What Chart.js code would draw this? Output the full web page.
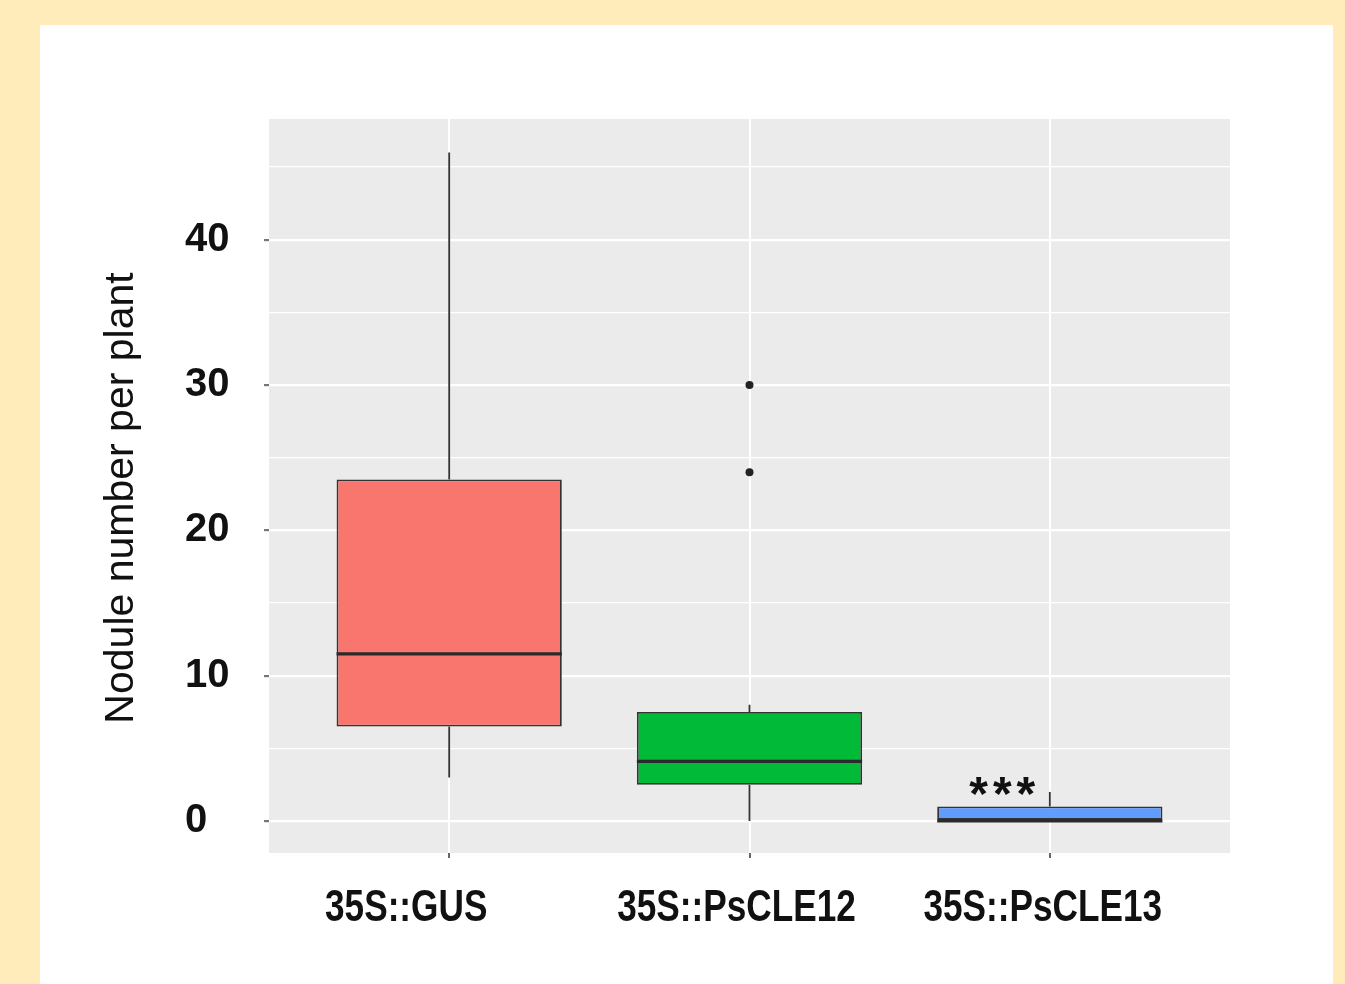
<!DOCTYPE html>
<html>
<head>
<meta charset="utf-8">
<title>Nodule number per plant</title>
<script src="https://cdn.jsdelivr.net/npm/chart.js@4/dist/chart.umd.min.js"></script>
<style>
  html, body { margin: 0; padding: 0; background: #FFECBA; }
  canvas { display: block; }
</style>
</head>
<body>
<canvas id="c" width="1345" height="984"></canvas>
<script>
// Genotypes on the x axis
const categories = ['35S::GUS', '35S::PsCLE12', '35S::PsCLE13'];
// Box-plot statistics per genotype (nodules per plant)
const whiskerLow  = [3,    0,   0];
const q1          = [6.5,  2.5, 0];
const median      = [11.5, 4.1, 0];
const q3          = [23.5, 7.5, 1];
const whiskerHigh = [46,   8,   2];
// Points beyond the whiskers
const outliers    = [[], [24, 30], []];
// Significance marks above each box
const significance = ['', '', '***'];
// Fill colours of the boxes
const boxColors = ['#F8766D', '#00BA38', '#619CFF'];
// Axis title
const yTitle = 'Nodule number per plant';

const boxData = categories.map((_, i) => ({ x: i + 1, y: [q1[i], q3[i]] }));
const outlierData = [];
outliers.forEach((vals, i) => vals.forEach(v => outlierData.push({ x: i + 1, y: v })));

const LINE = '#333333';
const FONT = '"Liberation Sans", Arial, sans-serif';

const decor = {
  id: 'boxDecor',
  beforeDraw(chart) {
    const { ctx, chartArea: a, width, height } = chart;
    ctx.save();
    ctx.fillStyle = '#FFECBA';
    ctx.fillRect(0, 0, width, height);
    ctx.fillStyle = '#FFFFFF';
    ctx.fillRect(40, 25, 1293, height - 25);
    ctx.fillStyle = '#EBEBEB';
    ctx.fillRect(a.left, a.top, a.right - a.left, a.bottom - a.top);
    ctx.restore();
  },
  beforeDatasetsDraw(chart) {
    // whiskers
    const { ctx, scales: { x, y } } = chart;
    ctx.save();
    ctx.strokeStyle = LINE;
    ctx.lineWidth = 1.8;
    categories.forEach((_, i) => {
      const px = x.getPixelForValue(i + 1);
      ctx.beginPath();
      ctx.moveTo(px, y.getPixelForValue(q3[i]));
      ctx.lineTo(px, y.getPixelForValue(whiskerHigh[i]));
      ctx.moveTo(px, y.getPixelForValue(q1[i]));
      ctx.lineTo(px, y.getPixelForValue(whiskerLow[i]));
      ctx.stroke();
    });
    ctx.restore();
  },
  afterDatasetsDraw(chart) {
    const { ctx, scales: { x, y } } = chart;
    const meta = chart.getDatasetMeta(0);
    ctx.save();
    // medians
    ctx.strokeStyle = '#2a2a2a';
    ctx.lineWidth = 3.2;
    meta.data.forEach((bar, i) => {
      const half = bar.width / 2;
      const py = y.getPixelForValue(median[i]);
      ctx.beginPath();
      ctx.moveTo(bar.x - half, py);
      ctx.lineTo(bar.x + half, py);
      ctx.stroke();
    });
    // significance stars
    ctx.fillStyle = '#111111';
    ctx.font = 'bold 48px ' + FONT;
    ctx.textAlign = 'center';
    ctx.textBaseline = 'alphabetic';
    if ('letterSpacing' in ctx) ctx.letterSpacing = '5px';
    const unit = x.getPixelForValue(2) - x.getPixelForValue(1);
    significance.forEach((s, i) => {
      if (!s) return;
      const px = x.getPixelForValue(i + 1) - 0.15 * unit;
      const py = y.getPixelForValue(whiskerHigh[i]) + 18;
      ctx.fillText(s, px, py);
    });
    ctx.restore();
  },
  afterDraw(chart) {
    const { ctx, chartArea: a, scales: { x } } = chart;
    ctx.save();
    ctx.fillStyle = '#111111';
    // y axis title
    ctx.font = '41px ' + FONT;
    ctx.textAlign = 'center';
    ctx.textBaseline = 'middle';
    ctx.save();
    ctx.translate(122, (a.top + a.bottom) / 2 + 12);
    ctx.rotate(-Math.PI / 2);
    ctx.fillText(yTitle, 0, 0);
    ctx.restore();
    // genotype labels under the panel
    const shift = [-43, -13, -7];
    ctx.font = 'bold 44px ' + FONT;
    categories.forEach((c, i) => {
      const px = x.getPixelForValue(i + 1) + shift[i];
      ctx.save();
      ctx.translate(px, a.bottom + 56);
      ctx.scale(0.8, 1);
      ctx.fillText(c, 0, 0);
      ctx.restore();
    });
    ctx.restore();
  }
};

new Chart(document.getElementById('c'), {
  type: 'bar',
  data: {
    datasets: [
      {
        type: 'bar',
        data: boxData,
        backgroundColor: boxColors,
        borderColor: LINE,
        borderWidth: 1.8,
        borderSkipped: false,
        categoryPercentage: 1,
        barPercentage: 0.75
      },
      {
        type: 'scatter',
        data: outlierData,
        pointRadius: 4,
        pointBackgroundColor: '#222222',
        pointBorderWidth: 0
      }
    ]
  },
  plugins: [decor],
  options: {
    responsive: false,
    animation: false,
    devicePixelRatio: 1,
    layout: { padding: { left: 185, right: 115, top: 119, bottom: 0 } },
    plugins: { legend: { display: false }, tooltip: { enabled: false } },
    scales: {
      x: {
        type: 'linear',
        min: 0.4,
        max: 3.6,
        offset: false,
        afterFit(axis) { axis.height = 131; },
        ticks: { stepSize: 1, includeBounds: false, display: false },
        grid: {
          offset: false,
          color: '#FFFFFF',
          lineWidth: 2,
          tickColor: '#666666',
          tickLength: 5,
          drawTicks: true
        },
        border: { display: false }
      },
      y: {
        min: -2.2,
        max: 48.3,
        afterFit(axis) { axis.width = 84; },
        ticks: {
          stepSize: 5,
          includeBounds: false,
          crossAlign: 'far',
          color: '#111111',
          font: { family: FONT, size: 40, weight: 'bold' },
          callback: v => (v % 10 === 0 ? String(v) : '')
        },
        grid: {
          color: '#FFFFFF',
          lineWidth: ctx => (ctx.tick && ctx.tick.value % 10 === 0 ? 2.2 : 1.2),
          tickColor: ctx => (ctx.tick && ctx.tick.value % 10 === 0 ? '#777777' : 'rgba(0,0,0,0)'),
          tickLength: 5
        },
        border: { display: false }
      }
    }
  }
});
</script>
</body>
</html>
